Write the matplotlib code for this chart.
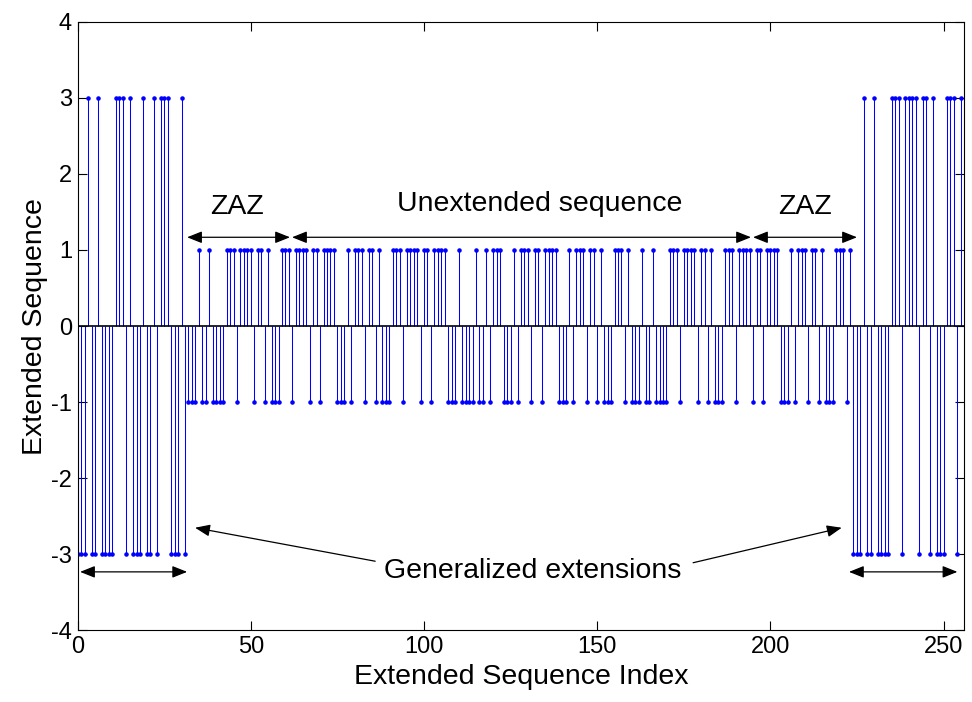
import numpy as np
import matplotlib
matplotlib.use("Agg")
import matplotlib.pyplot as plt

plt.rcParams['font.family'] = ['Liberation Sans', 'DejaVu Sans']
plt.rcParams['axes.unicode_minus'] = False

# ---- data ----
ext_left = [-3, -3, -3, 3, -3, -3, 3, -3, -3, -3, -3, 3, 3, 3, -3, 3,
            -3, -3, -3, 3, -3, -3, 3, -3, 3, 3, 3, -3, -3, -3, 3, -3]
zaz_left = [-1, -1, -1, 1, -1, -1, 1, -1, -1, -1, -1, 1, 1, 1, -1, 1,
            1, 1, 1, -1, 1, 1, -1, 1, -1, -1, -1, 1, 1, 1, -1, 1]
unextended = [
    1, 1, 1, -1, 1, 1, -1, 1, 1, 1, 1, -1, -1, -1, 1, -1,
    1, 1, 1, -1, 1, 1, -1, 1, -1, -1, -1, 1, 1, 1, -1, 1,
    1, 1, 1, -1, 1, 1, -1, 1, 1, 1, 1, -1, -1, -1, 1, -1,
    -1, -1, -1, 1, -1, -1, 1, -1, 1, 1, 1, -1, -1, -1, 1, -1,
    1, 1, 1, -1, 1, 1, -1, 1, 1, 1, 1, -1, -1, -1, 1, -1,
    1, 1, 1, -1, 1, 1, -1, 1, -1, -1, -1, 1, 1, 1, -1, 1,
    -1, -1, -1, 1, -1, -1, 1, -1, -1, -1, -1, 1, 1, 1, -1, 1,
    1, 1, 1, -1, 1, 1, -1, 1, -1, -1, -1, 1, 1, 1, -1, 1]
zaz_right = [1, 1, 1, -1, 1, 1, -1, 1, 1, 1, 1, -1, -1, -1, 1, -1,
             1, 1, 1, -1, 1, 1, -1, 1, -1, -1, -1, 1, 1, 1, -1, 1]
ext_right = [-3, -3, -3, 3, -3, -3, 3, -3, -3, -3, -3, 3, 3, 3, -3, 3,
             3, 3, 3, -3, 3, 3, -3, 3, -3, -3, -3, 3, 3, 3, -3, 3]

x_ticks = [0, 50, 100, 150, 200, 250]
y_ticks = [-4, -3, -2, -1, 0, 1, 2, 3, 4]

seq = np.array(ext_left + zaz_left + unextended + zaz_right + ext_right)
idx = np.arange(len(seq))

fig = plt.figure(figsize=(9.72, 7.02), dpi=100)
ax = fig.add_axes([0.0799, 0.1019, 0.9122, 0.8672])

markerline, stemlines, baseline = ax.stem(idx, seq, linefmt='-', markerfmt='.', basefmt=' ')
plt.setp(stemlines, color=(0, 0, 1), linewidth=0.75)
plt.setp(markerline, color=(0, 0, 1), markersize=4.5)
ax.axhline(0, color='k', lw=1.2, zorder=3)

ax.set_xlim(0, 256)
ax.set_ylim(-4, 4)
ax.set_xticks(x_ticks)
ax.set_yticks(y_ticks)
ax.tick_params(direction='in', length=6.5, width=0.8, top=True, right=True,
               labelsize=17, pad=4)
for s in ax.spines.values():
    s.set_linewidth(0.8)
ax.set_xlabel('Extended Sequence Index', fontsize=20.5, labelpad=4)
ax.set_ylabel('Extended Sequence', fontsize=20.5, labelpad=2)

ap2 = dict(arrowstyle='<|-|>,head_length=0.45,head_width=0.18', color='k',
           lw=0.9, mutation_scale=20, shrinkA=0, shrinkB=0)
ap1 = dict(arrowstyle='-|>,head_length=0.45,head_width=0.18', color='k',
           lw=0.9, mutation_scale=20, shrinkA=0, shrinkB=0)

def darrow(x0, x1, y):
    ax.annotate('', xy=(x1, y), xytext=(x0, y), arrowprops=ap2)

darrow(31.6, 61.3, 1.167)
darrow(61.9, 194.4, 1.167)
darrow(195.0, 225.0, 1.167)
darrow(0.7, 31.6, -3.23)
darrow(222.7, 254.0, -3.23)

ax.text(46.0, 1.56, 'ZAZ', fontsize=20.5, ha='center', va='center')
ax.text(133.5, 1.61, 'Unextended sequence', fontsize=20.5, ha='center', va='center')
ax.text(210.0, 1.56, 'ZAZ', fontsize=20.5, ha='center', va='center')
ax.text(131.5, -3.215, 'Generalized extensions', fontsize=20.5, ha='center', va='center')

ax.annotate('', xy=(33.9, -2.65), xytext=(85.9, -3.09), arrowprops=ap1)
ax.annotate('', xy=(220.6, -2.65), xytext=(177.7, -3.11), arrowprops=ap1)

fig.savefig('out.png', dpi=100)
